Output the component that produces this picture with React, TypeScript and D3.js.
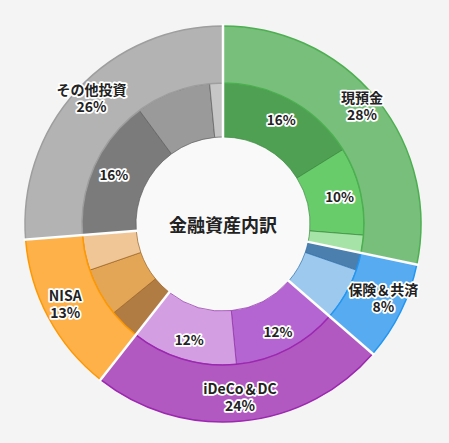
import React from 'react';
import * as d3 from 'd3';

// outer ring: asset groups (values in %)
const groups = ['現預金', '保険＆共済', 'iDeCo＆DC', 'NISA', 'その他投資'];
const groupValues = [28, 8, 24, 13, 26];

// inner ring: breakdown of each group
const cashParts = [16, 10, 2];
const insuranceParts = [2, 6];
const idecoParts = [12, 12];
const nisaParts = [3.5, 5.5, 4];
const otherParts = [16, 8.5, 1.5];
const childParts = [cashParts, insuranceParts, idecoParts, nisaParts, otherParts];

const outerFill = ['#77bf7a', '#57abf0', '#b159c1', '#fdb148', '#b3b3b3'];
const outerStroke = ['#4caf50', '#2196f3', '#9c27b0', '#ff9800', '#9e9e9e'];
const innerFill = [
  ['#50a054', '#68cc6b', '#a6e3a6'],
  ['#4a7fae', '#9dc9ee'],
  ['#b465d1', '#d49ee3'],
  ['#b07c43', '#e3a657', '#f0c696'],
  ['#7b7b7b', '#9a9a9a', '#c6c6c6'],
];
const innerStroke = ['#3a8a3e', '#2f6fa8', '#8e2ea6', '#9a6322', '#5e5e5e'];

const W = 449;
const H = 443;
const cx = 223;
const cy = 224;
const rHole = 87;
const rMid = 141;
const rOuter = 198;

const App: React.FC = () => {
  const pie = d3.pie<number>().sort(null).value(d => d);
  const outerArcs = pie(groupValues);

  const outerArc = d3.arc<d3.PieArcDatum<number>>().innerRadius(rMid).outerRadius(rOuter);
  const innerArc = d3.arc<d3.PieArcDatum<number>>().innerRadius(rHole).outerRadius(rMid);
  const outerLabelArc = d3.arc<d3.PieArcDatum<number>>().innerRadius(179).outerRadius(179);
  const innerLabelArc = d3.arc<d3.PieArcDatum<number>>().innerRadius(120).outerRadius(120);

  const innerArcs = outerArcs.map((a, i) =>
    d3.pie<number>().sort(null).value(d => d)
      .startAngle(a.startAngle).endAngle(a.endAngle)(childParts[i])
  );

  const halo = {
    stroke: '#fff',
    strokeWidth: 3.5,
    paintOrder: 'stroke' as const,
    strokeLinejoin: 'round' as const,
  };
  const font = '"Noto Sans CJK JP", "Noto Sans", sans-serif';

  return (
    <div style={{ position: 'fixed', inset: 0, background: '#f4f4f4' }}>
      <svg width={W} height={H} style={{ display: 'block' }}>
        <g transform={`translate(${cx},${cy})`}>
          <circle r={rHole} fill="#f9f9f9" />

          {/* inner ring */}
          {innerArcs.map((parts, i) =>
            parts.map((p, j) => (
              <path key={`in-${i}-${j}`} d={innerArc(p) || ''} fill={innerFill[i][j]}
                stroke={innerStroke[i]} strokeWidth={1} strokeOpacity={0.7} />
            ))
          )}

          {/* outer ring */}
          {outerArcs.map((a, i) => (
            <path key={`out-${i}`} d={outerArc(a) || ''} fill={outerFill[i]}
              stroke={outerStroke[i]} strokeWidth={1.5} />
          ))}

          {/* white gaps between groups */}
          {outerArcs.map((a, i) => {
            const ang = a.startAngle;
            return (
              <line key={`sep-${i}`}
                x1={Math.sin(ang) * (rHole - 1)} y1={-Math.cos(ang) * (rHole - 1)}
                x2={Math.sin(ang) * (rOuter + 2)} y2={-Math.cos(ang) * (rOuter + 2)}
                stroke="#fff" strokeWidth={2.5} />
            );
          })}

          {/* inner labels */}
          {innerArcs.map((parts, i) =>
            parts.filter(p => p.data >= 10).map((p, j) => {
              const [x, y] = innerLabelArc.centroid(p);
              return (
                <text key={`il-${i}-${j}`} x={x} y={y} textAnchor="middle" dominantBaseline="central"
                  fontFamily={font} fontSize={13.5} fontWeight={700} fill="#222" {...halo}>
                  {`${p.data}%`}
                </text>
              );
            })
          )}

          {/* outer labels, two lines each */}
          {outerArcs.map((a, i) => {
            const [x, y] = outerLabelArc.centroid(a);
            return (
              <g key={`ol-${i}`} fontFamily={font} fontSize={14} fontWeight={700} fill="#222">
                <text x={x} y={y - 14} textAnchor="middle" dominantBaseline="central" {...halo}>
                  {groups[i]}
                </text>
                <text x={x} y={y + 3} textAnchor="middle" dominantBaseline="central" {...halo}>
                  {`${groupValues[i]}%`}
                </text>
              </g>
            );
          })}

          <text x={0} y={0} textAnchor="middle" dominantBaseline="central"
            fontFamily={font} fontSize={18} fontWeight={700} fill="#222">
            金融資産内訳
          </text>
        </g>
      </svg>
    </div>
  );
};

export default App;
